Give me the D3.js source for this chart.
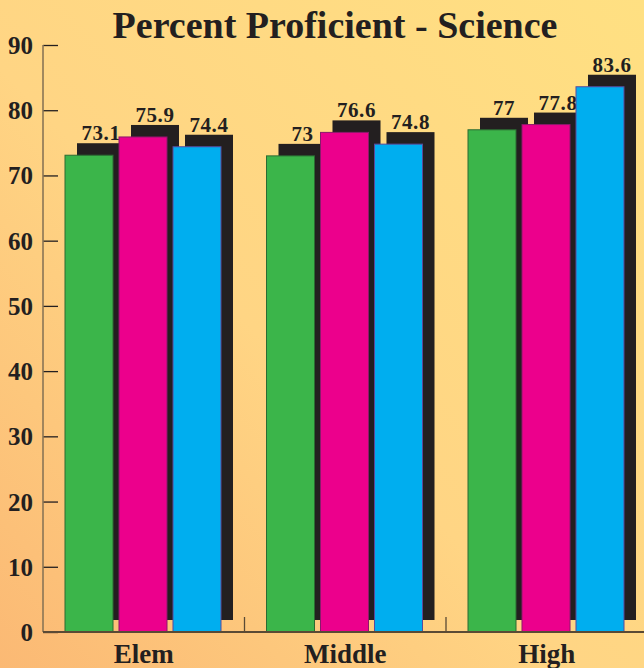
<!DOCTYPE html>
<html>
<head>
<meta charset="utf-8">
<script src="https://cdn.jsdelivr.net/npm/d3@7"></script>
<style>
  html, body { margin: 0; padding: 0; background: #ffd985; }
  svg { display: block; }
  text { font-family: "Liberation Serif", "Times New Roman", serif; fill: #231f20; }
</style>
</head>
<body>
<svg id="chart" width="644" height="668"></svg>
<script>
const title = "Percent Proficient - Science";
const categories = ["Elem", "Middle", "High"];
const seriesNames = ["Series A", "Series B", "Series C"];
const seriesA = [73.1, 73, 77];
const seriesB = [75.9, 76.6, 77.8];
const seriesC = [74.4, 74.8, 83.6];
const yTicks = [0, 10, 20, 30, 40, 50, 60, 70, 80, 90];
const seriesColors = ["#3bb54a", "#ec008c", "#00aeef"];
const seriesStrokes = ["#2c6b33", "#8a1a6a", "#5a4a9c"];

const seriesValues = [seriesA, seriesB, seriesC];

const W = 644, H = 668;
const svg = d3.select("#chart");

// background gradient
const defs = svg.append("defs");
const grad = defs.append("linearGradient").attr("id", "bg")
  .attr("x1", 0).attr("y1", 1).attr("x2", 1).attr("y2", 0);
grad.append("stop").attr("offset", "0%").attr("stop-color", "#fbb974");
grad.append("stop").attr("offset", "45%").attr("stop-color", "#ffd584");
grad.append("stop").attr("offset", "100%").attr("stop-color", "#ffe082");
svg.append("rect").attr("width", W).attr("height", H).attr("fill", "url(#bg)");

const x0 = d3.scaleBand().domain(categories).range([43, 647.5]).padding(0);
const x1 = d3.scaleBand().domain(seriesNames).range([22, 178]).paddingInner(0.111).paddingOuter(0);
const y = d3.scaleLinear().domain([0, 90]).range([632, 45]);

const off = 12;

// title
svg.append("text").attr("x", 335).attr("y", 38)
  .attr("text-anchor", "middle")
  .style("font-size", "38px").style("font-weight", "bold")
  .text(title);

// bars
const groups = svg.selectAll("g.cat").data(categories).enter().append("g")
  .attr("class", "cat")
  .attr("transform", d => `translate(${x0(d)},0)`);

groups.each(function(cat, ci) {
  const g = d3.select(this);
  seriesNames.forEach((s, si) => {
    const v = seriesValues[si][ci];
    const bx = x1(s), bw = x1.bandwidth();
    g.append("rect")
      .attr("x", bx + off).attr("y", y(v) - off)
      .attr("width", bw).attr("height", y(0) - y(v))
      .attr("fill", "#231f20");
    g.append("rect")
      .attr("x", bx).attr("y", y(v))
      .attr("width", bw).attr("height", y(0) - y(v))
      .attr("fill", seriesColors[si])
      .attr("stroke", seriesStrokes[si]).attr("stroke-width", 1);
    g.append("text")
      .attr("x", bx + bw / 2 + off).attr("y", y(v) - off - 3)
      .attr("text-anchor", "middle")
      .style("font-size", "21px").style("font-weight", "bold")
      .style("letter-spacing", "0.6px")
      .text(v);
  });
});

// y axis
const yAxis = d3.axisRight(y).tickValues(yTicks).tickSize(15).tickFormat("");
const ya = svg.append("g").attr("transform", "translate(43,0)").call(yAxis);
ya.select(".domain").remove();
ya.selectAll(".tick line").attr("stroke", "#231f20").attr("stroke-width", 1.3);
svg.append("line").attr("x1", 43).attr("x2", 43).attr("y1", y(90)).attr("y2", y(0))
  .attr("stroke", "#8a7555").attr("stroke-width", 1.6);
svg.selectAll("text.ytick").data(yTicks).enter().append("text")
  .attr("class", "ytick")
  .attr("x", 33).attr("y", d => y(d) + 9)
  .attr("text-anchor", "end")
  .style("font-size", "25px").style("font-weight", "bold")
  .text(d => d);

// x baseline
svg.append("line").attr("x1", 43).attr("x2", W).attr("y1", y(0)).attr("y2", y(0))
  .attr("stroke", "#5a4a35").attr("stroke-width", 2);
// category separators
svg.selectAll("line.sep").data(categories.slice(1)).enter().append("line")
  .attr("class", "sep")
  .attr("x1", d => x0(d)).attr("x2", d => x0(d))
  .attr("y1", y(0) - 15).attr("y2", y(0))
  .attr("stroke", "#5a4a35").attr("stroke-width", 1.3);

// category labels
svg.selectAll("text.cat").data(categories).enter().append("text")
  .attr("class", "cat")
  .attr("x", d => x0(d) + x0.bandwidth() / 2)
  .attr("y", 663)
  .attr("text-anchor", "middle")
  .style("font-size", "27px").style("font-weight", "bold")
  .text(d => d);
</script>
</body>
</html>
